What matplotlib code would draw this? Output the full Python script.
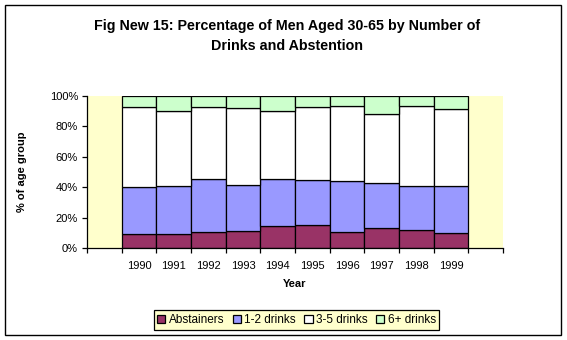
import matplotlib
matplotlib.use("Agg")
import matplotlib.pyplot as plt
import matplotlib.patches as mpatches
import numpy as np

# values (percent of age group)
anos = ["1990", "1991", "1992", "1993", "1994", "1995", "1996", "1997", "1998", "1999"]
abstemios = [9.4, 9.4, 10.7, 11.4, 14.3, 15.5, 10.9, 13.6, 12.3, 10.3]
ate_2 = [30.7, 31.6, 34.9, 30.3, 31.3, 29.1, 32.9, 28.9, 28.8, 30.2]
de_3_a_5 = [52.2, 48.7, 46.7, 50.0, 44.1, 47.7, 49.2, 45.2, 51.9, 50.5]
mais_de_6 = [7.7, 10.3, 7.7, 8.3, 10.3, 7.7, 7.0, 12.3, 7.0, 9.0]

series = [
    ("Abstainers", abstemios, "#993366"),
    ("1-2 drinks", ate_2, "#9999FF"),
    ("3-5 drinks", de_3_a_5, "#FFFFFF"),
    ("6+ drinks", mais_de_6, "#CCFFCC"),
]

plt.rcParams["font.family"] = ["Liberation Sans", "DejaVu Sans"]

W, H = 567, 340
fig = plt.figure(figsize=(W / 100, H / 100), dpi=100)
fig.patch.set_facecolor("white")

# outer chart border
fig.patches.append(mpatches.Rectangle((5 / W, 5 / H), 556 / W, 330 / H,
                                      transform=fig.transFigure, fill=False,
                                      edgecolor="black", linewidth=1.0))

ax = fig.add_axes([87 / W, (H - 248.3) / H, 416 / W, 152.6 / H])
ax.set_facecolor("#FFFFCC")

x = np.arange(len(anos))
base = np.zeros(len(anos))
for nome, valores, cor in series:
    ax.bar(x, valores, bottom=base, width=1.0, color=cor, edgecolor="black",
           linewidth=0.9, label=nome)
    base = base + np.array(valores)

ax.set_xlim(-1.5, len(anos) + 0.5)
ax.set_ylim(0, 100)

ax.set_xticks(np.arange(-1.5, len(anos) + 1.0, 1.0))
ax.set_xticklabels([])
ax.set_xticks(x, minor=True)
ax.set_xticklabels(anos, minor=True, fontsize=8)
ax.tick_params(axis="x", which="major", length=3.5, width=0.9, direction="out")
ax.tick_params(axis="x", which="minor", length=0, pad=9)

ax.set_yticks(np.arange(0, 101, 20))
ax.set_yticklabels([f"{v}%" for v in range(0, 101, 20)], fontsize=8)
ax.tick_params(axis="y", length=3.5, width=0.9, direction="out", pad=3)

for lado in ["top", "right"]:
    ax.spines[lado].set_visible(False)
for lado in ["left", "bottom"]:
    ax.spines[lado].set_linewidth(0.9)

fig.text(22 / W, 1 - 172 / H, "% of age group", rotation=90, ha="center",
         va="center", fontsize=8, fontweight="bold")
fig.text(295 / W, 1 - 284 / H, "Year", ha="center", va="center",
         fontsize=8, fontweight="bold")
fig.text(287 / W, 1 - 36 / H,
         "Fig New 15: Percentage of Men Aged 30-65 by Number of\nDrinks and Abstention",
         ha="center", va="center", fontsize=10.3, fontweight="bold",
         linespacing=1.6)

leg = fig.legend(loc="center", bbox_to_anchor=(296.5 / W, (H - 320) / H), ncol=4,
                 fontsize=8.5, frameon=True, fancybox=False, facecolor="#FFFFCC",
                 edgecolor="black", handlelength=0.7, handleheight=0.7,
                 handletextpad=0.3, columnspacing=0.7, borderpad=0.3,
                 borderaxespad=0)
leg.get_frame().set_linewidth(0.9)
leg.get_frame().set_alpha(1)

fig.savefig("out.png", dpi=100)
